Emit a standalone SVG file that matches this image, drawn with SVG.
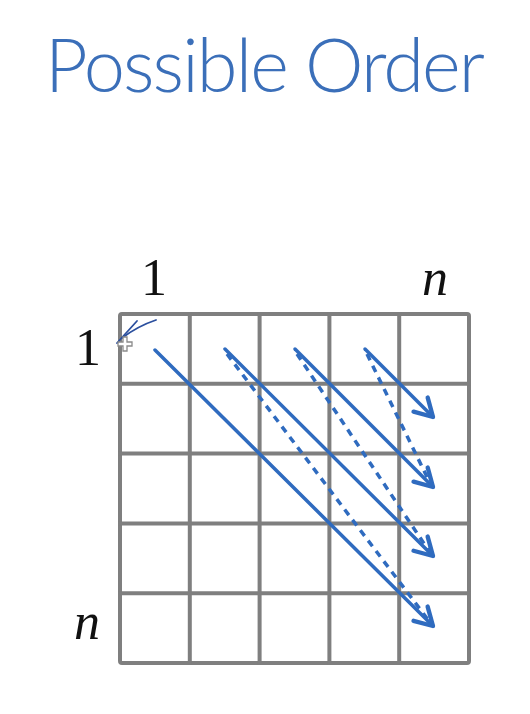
<svg xmlns="http://www.w3.org/2000/svg" width="530" height="714" viewBox="0 0 530 714">
<defs>
<style>
.title{font-family:Lato,"Open Sans","DejaVu Sans",sans-serif;font-weight:300;font-size:74px;fill:#3b6fb9}
.lbl{font-family:"Liberation Serif","DejaVu Serif",serif;font-size:52px;fill:#111}
.it{font-style:italic}
.grid{stroke:#7f7f7f;stroke-width:4;fill:none;stroke-linecap:square}
.solid{stroke:#2f6bbf;stroke-width:3.5;fill:none;stroke-linecap:round}
.dash{stroke:#2f6bbf;stroke-width:3.5;fill:none;stroke-dasharray:7 6}
.sketch{stroke:#2b4f9e;stroke-width:1.8;fill:none;stroke-linecap:round}
</style>
<marker id="ah" markerUnits="userSpaceOnUse" markerWidth="30" markerHeight="30" refX="0" refY="0" viewBox="-16 -12 20 24" orient="auto">
<path d="M-14,-8 L0,0 L-14,8" fill="none" stroke="#2f6bbf" stroke-width="3.5" stroke-linecap="round" stroke-linejoin="round"/>
</marker>
</defs>
<rect width="530" height="714" fill="#ffffff"/>
<g id="title"><text class="title" x="45" y="92" textLength="440">Possible Order</text></g>
<g id="labels">
<text class="lbl" x="154" y="295" text-anchor="middle">1</text>
<text class="lbl it" x="435" y="295" text-anchor="middle">n</text>
<text class="lbl" x="88" y="365" text-anchor="middle">1</text>
<text class="lbl it" x="87" y="639" text-anchor="middle">n</text>
</g>
<g id="grid">
<rect class="grid" x="120" y="314" width="349" height="349" rx="2"/>
<path class="grid" d="M189.8,314V663M259.6,314V663M329.4,314V663M399.2,314V663M120,383.8H469M120,453.6H469M120,523.4H469M120,593.2H469"/>
</g>
<g id="connectors">
<line class="solid" x1="155" y1="350" x2="433" y2="626" marker-end="url(#ah)"/>
<line class="solid" x1="225" y1="349" x2="433" y2="556" marker-end="url(#ah)"/>
<line class="solid" x1="295" y1="349" x2="433" y2="487" marker-end="url(#ah)"/>
<line class="solid" x1="365" y1="349" x2="433" y2="417" marker-end="url(#ah)"/>
<line class="dash" x1="227" y1="354" x2="429" y2="621"/>
<line class="dash" x1="297" y1="354" x2="429" y2="551"/>
<line class="dash" x1="367" y1="354" x2="429" y2="481"/>
</g>
<g id="sketch">
<path class="sketch" d="M117,343 L137,321"/>
<path class="sketch" d="M122,338 Q138,326 156,320"/>
<path d="M123,337 h4 v5 h5 v4 h-5 v5 h-4 v-5 h-5 v-4 h5 z" fill="#ffffff" stroke="#8a8a8a" stroke-width="1.3"/>
</g>
</svg>
